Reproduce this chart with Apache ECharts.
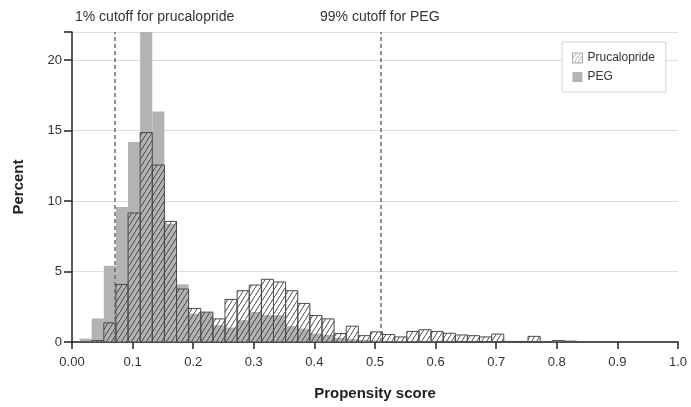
<!DOCTYPE html>
<html>
<head>
<meta charset="utf-8">
<script src="https://cdn.jsdelivr.net/npm/echarts@6/dist/echarts.min.js"></script>
<style>
  html, body { margin: 0; padding: 0; background: #fff; }
  #chart { width: 691px; height: 407px; }
</style>
</head>
<body>
<div id="chart"></div>
<script>
// left edge of each histogram bin (width 0.02)
const binStarts = [
  0.0125, 0.0325, 0.0525, 0.0725, 0.0925, 0.1125, 0.1325, 0.1525, 0.1725, 0.1925,
  0.2125, 0.2325, 0.2525, 0.2725, 0.2925, 0.3125, 0.3325, 0.3525, 0.3725, 0.3925,
  0.4125, 0.4325, 0.4525, 0.4725, 0.4925, 0.5125, 0.5325, 0.5525, 0.5725, 0.5925,
  0.6125, 0.6325, 0.6525, 0.6725, 0.6925, 0.7125, 0.7325, 0.7525, 0.7725, 0.7925,
  0.8125
];
const binWidth = 0.02;

const prucalopride = [
  0, 0.1, 1.36, 4.09, 9.16, 14.86, 12.56, 8.56, 3.76, 2.38,
  2.12, 1.64, 3.02, 3.64, 4.04, 4.45, 4.26, 3.64, 2.74, 1.88,
  1.64, 0.6, 1.12, 0.45, 0.72, 0.53, 0.36, 0.75, 0.87, 0.75,
  0.62, 0.5, 0.45, 0.36, 0.56, 0.04, 0.04, 0.4, 0, 0.1,
  0.06
];
const peg = [
  0.24, 1.67, 5.42, 9.58, 14.2, 22, 16.36, 8.4, 4.09, 2.0,
  2.1, 1.19, 1.03, 1.55, 2.14, 1.9, 1.9, 1.12, 0.95, 0.6,
  0.5, 0.3, 0.2, 0.15, 0.1, 0.05, 0.05, 0.03, 0.03, 0.02,
  0.02, 0, 0, 0, 0, 0, 0, 0, 0, 0.12,
  0.03
];

const cutoffs = [0.065, 0.509];
const cutoffLabels = ["1% cutoff for prucalopride", "99% cutoff for PEG"];
const xTickLabels = ["0.00", "0.1", "0.2", "0.3", "0.4", "0.5", "0.6", "0.7", "0.8", "0.9", "1.0"];
const yTickLabels = ["0", "5", "10", "15", "20"];

// diagonal hatch tile, transparent background
function hatch(lineColor, w, h) {
  const c = document.createElement("canvas");
  c.width = w; c.height = h;
  const ctx = c.getContext("2d");
  ctx.strokeStyle = lineColor;
  ctx.lineWidth = 0.9;
  ctx.beginPath();
  ctx.moveTo(0, h); ctx.lineTo(w, 0);
  ctx.moveTo(-w, h); ctx.lineTo(0, 0);
  ctx.moveTo(w, 2 * h); ctx.lineTo(2 * w, h);
  ctx.stroke();
  return c;
}
const hatchFill = { image: hatch("#3a3a3a", 5, 8), repeat: "repeat" };
const legendHatch = { image: hatch("#999", 4, 6), repeat: "repeat" };

const font = "'Liberation Sans', Arial, sans-serif";
const chart = echarts.init(document.getElementById("chart"));

function binRenderer(fill, stroke) {
  return function (params, api) {
    const x0 = api.value(0);
    const v = api.value(1);
    const p0 = api.coord([x0, 0]);
    const p1 = api.coord([x0 + binWidth, v]);
    return {
      type: "rect",
      shape: { x: p0[0], y: p1[1], width: p1[0] - p0[0], height: p0[1] - p1[1] },
      style: { fill: fill, stroke: stroke, lineWidth: stroke ? 1 : 0 }
    };
  };
}

chart.setOption({
  animation: false,
  textStyle: { fontFamily: font },
  grid: { left: 72, right: 13, top: 32, bottom: 65 },
  legend: {
    orient: "vertical",
    left: 562,
    top: 42,
    padding: [10, 11, 9, 10],
    itemGap: 7,
    itemWidth: 10,
    itemHeight: 10,
    backgroundColor: "#fff",
    borderColor: "#d4d4d4",
    borderWidth: 1,
    textStyle: { fontSize: 12, color: "#333", fontFamily: font },
    data: [
      { name: "Prucalopride", icon: "rect", itemStyle: { color: legendHatch, borderColor: "#aaa", borderWidth: 1 } },
      { name: "PEG", icon: "rect", itemStyle: { color: "#b3b3b3", borderWidth: 0 } }
    ]
  },
  xAxis: {
    type: "value",
    min: 0,
    max: 1,
    interval: 0.1,
    name: "Propensity score",
    nameLocation: "middle",
    nameGap: 44,
    nameTextStyle: { fontSize: 15, fontWeight: "bold", color: "#222", fontFamily: font },
    axisLine: { lineStyle: { color: "#222", width: 1.5 } },
    axisTick: { length: 7, lineStyle: { color: "#222", width: 1.5 } },
    axisLabel: {
      margin: 14,
      fontSize: 13,
      color: "#333",
      formatter: (v) => xTickLabels[Math.round(v * 10)] ?? ""
    },
    splitLine: { show: false }
  },
  yAxis: {
    type: "value",
    min: 0,
    max: 22,
    interval: 5,
    name: "Percent",
    nameLocation: "middle",
    nameGap: 46,
    nameTextStyle: { fontSize: 15, fontWeight: "bold", color: "#222", fontFamily: font },
    axisLine: { show: true, lineStyle: { color: "#222", width: 1.5 } },
    axisTick: { show: true, length: 8, lineStyle: { color: "#222", width: 1.5 } },
    axisLabel: {
      margin: 10,
      fontSize: 13,
      color: "#333",
      formatter: (v) => (v % 5 === 0 ? yTickLabels[v / 5] ?? "" : "")
    },
    splitLine: { show: true, lineStyle: { color: "#dcdcdc", width: 1.2 } }
  },
  series: [
    {
      name: "PEG",
      type: "custom",
      renderItem: binRenderer("#b3b3b3", null),
      itemStyle: { color: "#b3b3b3" },
      encode: { x: 0, y: 1 },
      data: binStarts.map((s, i) => [s, peg[i]]),
      z: 2
    },
    {
      name: "Prucalopride",
      type: "custom",
      renderItem: binRenderer(hatchFill, "#4a4a4a"),
      itemStyle: { color: legendHatch },
      encode: { x: 0, y: 1 },
      data: binStarts.map((s, i) => [s, prucalopride[i]]),
      z: 3,
      markLine: {
        silent: true,
        symbol: "none",
        label: { show: false },
        lineStyle: { color: "#6a6a6a", type: [4, 3], width: 1.5 },
        data: cutoffs.map((c) => ({ xAxis: c }))
      }
    }
  ],
  graphic: [
    {
      type: "text",
      left: 75,
      top: 10,
      style: { text: cutoffLabels[0], fontSize: 14, fill: "#333", fontFamily: font }
    },
    {
      type: "text",
      left: 320,
      top: 10,
      style: { text: cutoffLabels[1], fontSize: 14, fill: "#333", fontFamily: font }
    }
  ]
});
</script>
</body>
</html>
